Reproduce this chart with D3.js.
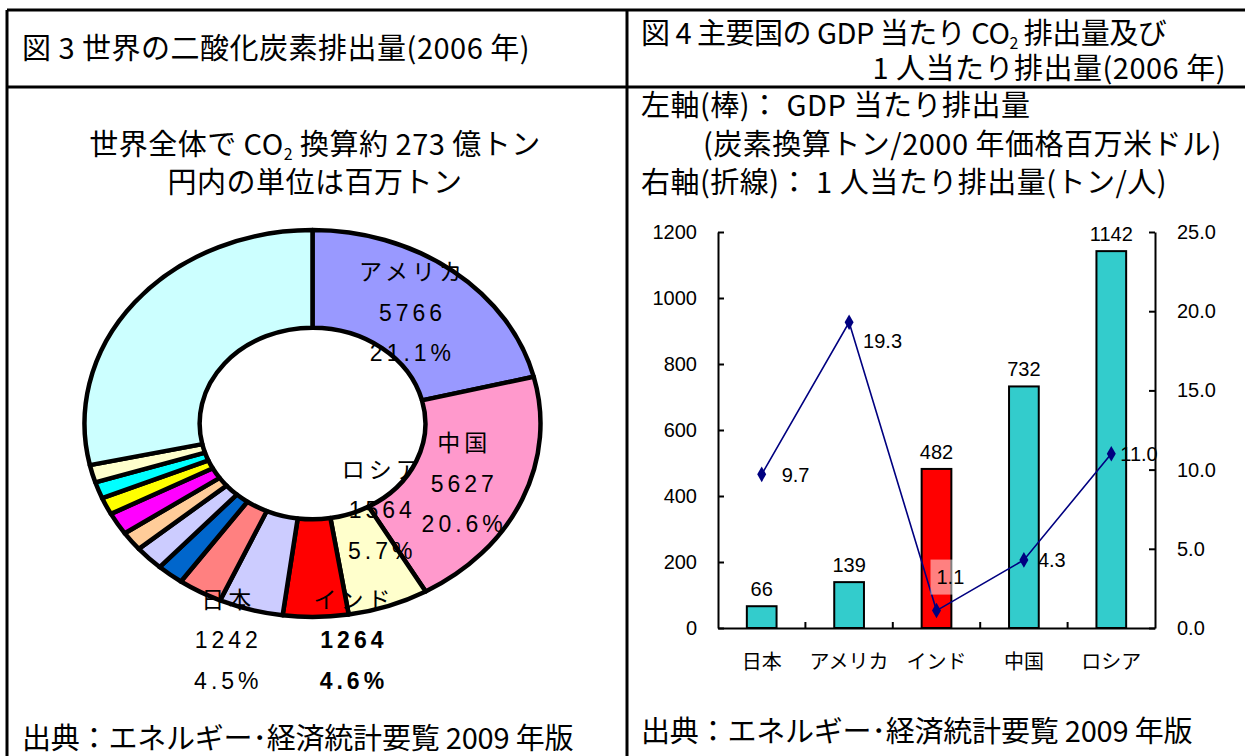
<!DOCTYPE html>
<html>
<head>
<meta charset="utf-8">
<script src="https://cdn.jsdelivr.net/npm/d3@7"></script>
<style>
body { margin: 0; background: #fff; }
</style>
</head>
<body>
<svg id="chart" width="1245" height="756"></svg>
<script>
// ---- 図3 donut data (百万トン) ----
var pieNames = ["アメリカ", "中国", "ロシア", "インド", "日本", "国6", "国7", "国8", "国9", "国10", "国11", "国12", "国13", "その他"];
var pieValues = [5766, 5627, 1564, 1264, 1242, 860, 520, 570, 440, 510, 390, 380, 400, 7767];
var pieColors = ["#9999FF", "#FF99CC", "#FFFFCC", "#FF0000", "#CCCCFF", "#FF8080", "#0066CC", "#CCCCFF",
                 "#FFCC99", "#FF00FF", "#FFFF00", "#00FFFF", "#FFFFCC", "#CCFFFF"];
var pieLabelled = ["アメリカ", "中国", "ロシア", "インド", "日本"];

// ---- 図4 data ----
var barCats = ["日本", "アメリカ", "インド", "中国", "ロシア"];
var gdpValues = [66, 139, 482, 732, 1142];
var perCapita = [9.7, 19.3, 1.1, 4.3, 11.0];
var barColors = ["#33CCCC", "#33CCCC", "#FF0000", "#33CCCC", "#33CCCC"];
var leftTicks = [0, 200, 400, 600, 800, 1000, 1200];
var rightTicks = [0, 5, 10, 15, 20, 25];

var svg = d3.select("#chart");
var titleFont = '"Liberation Sans Narrow", "Noto Sans CJK JP", sans-serif';
var chartFont = '"Liberation Sans", Arial, "Noto Sans CJK JP", sans-serif';

// ---- table frame ----
var frame = svg.append("g").attr("stroke", "#000").attr("stroke-width", 3);
frame.append("line").attr("x1", 7).attr("x2", 1245).attr("y1", 10).attr("y2", 10);
frame.append("line").attr("x1", 7).attr("x2", 1245).attr("y1", 87).attr("y2", 87);
frame.append("line").attr("x1", 7).attr("x2", 7).attr("y1", 10).attr("y2", 756);
frame.append("line").attr("x1", 627).attr("x2", 627).attr("y1", 10).attr("y2", 756);

function addText(x, y, str, size, anchor, spacing) {
    return svg.append("text")
        .attr("x", x).attr("y", y)
        .attr("text-anchor", anchor || "start")
        .style("font-family", titleFont)
        .style("font-size", size + "px")
        .style("letter-spacing", (spacing === undefined ? 0.5 : spacing) + "px")
        .style("fill", "#000")
        .text(str);
}

// CO2 text with subscript
function addCO2Text(x, y, before, after, size, anchor, spacing) {
    var t = svg.append("text")
        .attr("x", x).attr("y", y)
        .attr("text-anchor", anchor || "start")
        .style("font-family", titleFont)
        .style("letter-spacing", (spacing === undefined ? 0.5 : spacing) + "px")
        .style("font-size", size + "px");
    t.append("tspan").text(before + "CO");
    t.append("tspan").attr("dy", 5).style("font-size", (size * 0.55) + "px").text("2");
    t.append("tspan").attr("dy", -5).text(after);
    return t;
}

// left panel texts
addText(22, 59, "図 3  世界の二酸化炭素排出量(2006 年)", 29);
addCO2Text(315, 155, "世界全体で ", " 換算約 273 億トン", 29, "middle");
addText(315, 193, "円内の単位は百万トン", 29, "middle");
addText(22, 749, "出典：エネルギー･経済統計要覧 2009 年版", 29, "start", -0.2);

// right panel texts
addCO2Text(641, 44, "図 4  主要国の GDP 当たり ", " 排出量及び", 29, "start", -0.5);
addText(1226, 79, "1 人当たり排出量(2006 年)", 29, "end");
addText(641, 116, "左軸(棒)： GDP 当たり排出量", 29);
addText(703, 155, "(炭素換算トン/2000 年価格百万米ドル)", 29);
addText(641, 193, "右軸(折線)： 1 人当たり排出量(トン/人)", 29);
addText(641, 742, "出典：エネルギー･経済統計要覧 2009 年版", 29, "start", -0.2);

// ---- donut ----
var cx = 312.5, cy = 423.5, R = 228, k = 193.5 / 228;
var pie = d3.pie().sort(null).value(function(d) { return d; });
var arcs = pie(pieValues);
var arc = d3.arc().innerRadius(R * 0.495).outerRadius(R);
var total = d3.sum(pieValues);

var donut = svg.append("g")
    .attr("transform", "translate(" + cx + "," + cy + ") scale(1," + k + ")");
donut.selectAll("path")
    .data(arcs)
    .enter()
    .append("path")
    .attr("d", arc)
    .attr("fill", function(d, i) { return pieColors[i]; })
    .attr("stroke", "#000")
    .attr("stroke-width", 4.5)
    .attr("stroke-linejoin", "round")
    .attr("vector-effect", "non-scaling-stroke");

// label shifts from the ring centroid (Excel moved small slices' labels)
var pieLabelShift = [[-5, 3], [-5, 3], [13, -50], [39, 72], [-38, 77]];
arcs.forEach(function(d, i) {
    var name = pieNames[i];
    var j = pieLabelled.indexOf(name);
    if (j < 0) return;
    var c = arc.centroid(d);
    var lx = cx + c[0] + pieLabelShift[j][0];
    var ly = cy + c[1] * k + pieLabelShift[j][1];
    var bold = name === "インド";
    var lines = [name, String(pieValues[i]), (pieValues[i] / total * 100).toFixed(1) + "%"];
    lines.forEach(function(s, li) {
        svg.append("text")
            .attr("x", lx).attr("y", ly + (li - 1) * 40.5)
            .attr("dy", "0.36em")
            .attr("text-anchor", "middle")
            .style("font-family", chartFont)
            .style("font-size", "23px")
            .style("letter-spacing", "4px")
            .style("font-weight", bold && li > 0 ? "bold" : "normal")
            .text(s);
    });
});

// ---- bar + line chart ----
var x = d3.scaleBand().domain(barCats).range([718, 1155]);
var yL = d3.scaleLinear().domain([0, 1200]).range([628, 232]);
var yR = d3.scaleLinear().domain([0, 25]).range([628, 232]);
var barW = x.bandwidth() * 0.34;

var chart = svg.append("g");

chart.selectAll("rect.bar")
    .data(gdpValues)
    .enter()
    .append("rect")
    .attr("class", "bar")
    .attr("x", function(d, i) { return x(barCats[i]) + x.bandwidth() / 2 - barW / 2; })
    .attr("y", function(d) { return yL(d); })
    .attr("width", barW)
    .attr("height", function(d) { return yL(0) - yL(d); })
    .attr("fill", function(d, i) { return barColors[i]; })
    .attr("stroke", "#000")
    .attr("stroke-width", 2);

chart.selectAll("text.barlbl")
    .data(gdpValues)
    .enter()
    .append("text")
    .attr("class", "barlbl")
    .attr("x", function(d, i) { return x(barCats[i]) + x.bandwidth() / 2; })
    .attr("y", function(d) { return yL(d) - 10; })
    .attr("text-anchor", "middle")
    .style("font-family", chartFont)
    .style("font-size", "20px")
    .text(function(d) { return d; });

// axes
var leftAxis = d3.axisLeft(yL)
    .tickValues(leftTicks)
    .tickSizeInner(-6)
    .tickSizeOuter(0)
    .tickPadding(21)
    .tickFormat(d3.format("d"));
var rightAxis = d3.axisRight(yR)
    .tickValues(rightTicks)
    .tickSizeInner(-6)
    .tickSizeOuter(0)
    .tickPadding(22)
    .tickFormat(d3.format(".1f"));
var bottomAxis = d3.axisBottom(x)
    .tickSize(0)
    .tickPadding(27);

function styleAxis(g) {
    g.selectAll("path, line").attr("stroke", "#000").attr("stroke-width", 2);
    g.selectAll("text")
        .style("font-family", chartFont)
        .style("font-size", "20px")
        .attr("fill", "#000");
}

chart.append("g").attr("transform", "translate(718,0)").call(leftAxis).call(styleAxis);
chart.append("g").attr("transform", "translate(1155,0)").call(rightAxis).call(styleAxis);
chart.append("g").attr("transform", "translate(0,628)").call(bottomAxis).call(styleAxis);

// category boundary ticks (inside)
chart.selectAll("line.sep")
    .data(barCats.slice(1))
    .enter()
    .append("line")
    .attr("class", "sep")
    .attr("x1", function(d) { return x(d); })
    .attr("x2", function(d) { return x(d); })
    .attr("y1", 628)
    .attr("y2", 622)
    .attr("stroke", "#000")
    .attr("stroke-width", 2);

// per-capita line
var line = d3.line()
    .x(function(d, i) { return x(barCats[i]) + x.bandwidth() / 2; })
    .y(function(d) { return yR(d); });

chart.append("path")
    .datum(perCapita)
    .attr("d", line)
    .attr("fill", "none")
    .attr("stroke", "#000080")
    .attr("stroke-width", 1.6);

chart.selectAll("path.marker")
    .data(perCapita)
    .enter()
    .append("path")
    .attr("class", "marker")
    .attr("d", d3.symbol().type(d3.symbolDiamond).size(70))
    .attr("transform", function(d, i) {
        return "translate(" + (x(barCats[i]) + x.bandwidth() / 2) + "," + yR(d) + ")";
    })
    .attr("fill", "#000080");

// point labels: offsets from each marker
var ptLabelShift = [[20, 0], [14, 19], [0, -34], [14, 0], [9, 0]];
perCapita.forEach(function(d, i) {
    var px = x(barCats[i]) + x.bandwidth() / 2 + ptLabelShift[i][0];
    var py = yR(d) + ptLabelShift[i][1];
    var s = d.toFixed(1);
    if (i === 2) {
        chart.append("rect")
            .attr("x", px - 6).attr("y", py - 17)
            .attr("width", 28).attr("height", 35)
            .attr("fill", "#fff")
            .attr("fill-opacity", 0.5);
    }
    chart.append("text")
        .attr("x", px).attr("y", py)
        .attr("dy", "0.36em")
        .style("font-family", chartFont)
        .style("font-size", "20px")
        .text(s);
});
</script>
</body>
</html>
